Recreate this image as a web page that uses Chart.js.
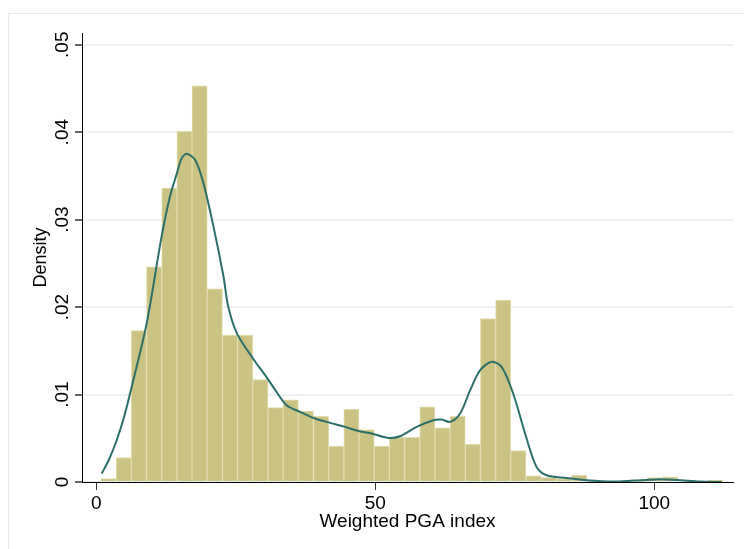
<!DOCTYPE html>
<html>
<head>
<meta charset="utf-8">
<script src="https://cdn.jsdelivr.net/npm/chart.js@4.4.1/dist/chart.umd.min.js"></script>
<style>
  html, body { margin: 0; padding: 0; background: #ffffff; }
  canvas { display: block; }
</style>
</head>
<body>
<canvas id="c" width="744" height="549"></canvas>
<script>
// ---- Data ----
const binCenters = [2.20, 4.92, 7.64, 10.36, 13.08, 15.80, 18.52, 21.24, 23.96, 26.68,
  29.40, 32.12, 34.84, 37.56, 40.28, 43.00, 45.72, 48.44, 51.16, 53.88,
  56.60, 59.32, 62.04, 64.76, 67.48, 70.20, 72.92, 75.64, 78.36, 81.08,
  83.80, 86.52, 89.24, 91.96, 94.68, 97.40, 100.12, 102.84, 105.56, 108.28, 111.00];
const binDensity = [0.0004, 0.0028, 0.0173, 0.0246, 0.0336, 0.0401, 0.0453, 0.0221, 0.0168, 0.0168,
  0.0117, 0.0085, 0.0094, 0.0081, 0.0075, 0.0041, 0.0083, 0.0060, 0.0041, 0.0051,
  0.0051, 0.0086, 0.0062, 0.0075, 0.0043, 0.0187, 0.0208, 0.0036, 0.0007, 0.0005,
  0.0004, 0.0008, 0.0001, 0.0000, 0.0001, 0.0001, 0.0005, 0.0006, 0.0002, 0.0001, 0.0002];
const kdeX = [0.97, 2.3, 3.65, 5.0, 6.34, 9.03, 11.7, 13.2, 14.4, 15.3, 16.2, 17.7, 19.2, 21.0, 22.8, 23.65,
  25.2, 28.1, 30.5, 32.3, 34.1, 36.5, 39.2, 41.9, 44.6, 47.2, 49.0, 52.3, 54.4, 57.4, 60.4, 61.9,
  63.4, 65.2, 67.0, 68.8, 70.9, 72.7, 74.7, 77.1, 78.9, 80.7, 84.3, 87.9, 92.7, 96.2, 100.4,
  104.0, 108.2, 112.1];
const kdeY = [0.00096, 0.0026, 0.00477, 0.0075, 0.01088, 0.01814, 0.02805, 0.03264, 0.0352, 0.0370, 0.03752, 0.03684,
  0.03417, 0.0292, 0.02347, 0.02004, 0.0170, 0.0141, 0.0120, 0.0103, 0.00878, 0.00802, 0.00726, 0.00676,
  0.0063, 0.0058, 0.00561, 0.00504, 0.00523, 0.0063, 0.00706, 0.00714, 0.00687, 0.00783, 0.0105,
  0.01279, 0.01374, 0.0131, 0.01012, 0.0050, 0.00172, 0.00077, 0.00046, 0.0002, 0.00005, 0.00016,
  0.0003, 0.00023, 0.00005, 0.0];
const xTicks = [0, 50, 100];
const xTickLabels = ['0', '50', '100'];
const yTicks = [0, 0.01, 0.02, 0.03, 0.04, 0.05];
const yTickLabels = ['0', '.01', '.02', '.03', '.04', '.05'];
const xTitle = 'Weighted PGA index';
const yTitle = 'Density';

// ---- Styling ----
const FONT = '"Liberation Sans", Arial, Helvetica, sans-serif';
const barFill = '#CBC383';
const barEdge = '#E2DCAE';
const lineColor = '#2B6F6B';
const gridColor = '#EBF1F3';

const histData = binCenters.map((x, i) => ({ x: x, y: binDensity[i] }));
const kdeData = kdeX.map((x, i) => ({ x: x, y: kdeY[i] }));

const frameAndLabels = {
  id: 'frameAndLabels',
  beforeDraw(chart) {
    const ctx = chart.ctx;
    ctx.save();
    ctx.fillStyle = '#ffffff';
    ctx.fillRect(0, 0, chart.width, chart.height);
    ctx.strokeStyle = '#E3EAEC';
    ctx.lineWidth = 1;
    ctx.strokeRect(8.5, 13.5, chart.width + 20, chart.height + 20);
    ctx.restore();
  },
  afterDraw(chart) {
    const ctx = chart.ctx;
    const ys = chart.scales.y;
    ctx.save();
    ctx.fillStyle = '#000000';
    ctx.font = '19px ' + FONT;
    ctx.textAlign = 'center';
    ctx.textBaseline = 'alphabetic';
    yTicks.forEach((v, i) => {
      const py = ys.getPixelForValue(v);
      ctx.save();
      ctx.translate(68, py);
      ctx.rotate(-Math.PI / 2);
      ctx.fillText(yTickLabels[i], 0, 0);
      ctx.restore();
    });
    ctx.restore();
  }
};

new Chart(document.getElementById('c'), {
  type: 'bar',
  data: {
    datasets: [
      {
        type: 'line',
        label: 'kdensity',
        data: kdeData,
        borderColor: lineColor,
        borderWidth: 2,
        pointRadius: 0,
        fill: false,
        tension: 0.3,
        order: 0
      },
      {
        type: 'bar',
        label: 'histogram',
        data: histData,
        backgroundColor: barFill,
        borderColor: barEdge,
        borderWidth: 1,
        borderSkipped: 'bottom',
        barPercentage: 1.0,
        categoryPercentage: 1.0,
        order: 1
      }
    ]
  },
  options: {
    responsive: false,
    animation: false,
    devicePixelRatio: 1,
    layout: { padding: { top: 33, right: 11, left: 0, bottom: 0 } },
    plugins: { legend: { display: false }, tooltip: { enabled: false } },
    scales: {
      x: {
        type: 'linear',
        min: -2.563,
        max: 114.1,
        offset: false,
        afterBuildTicks(scale) { scale.ticks = xTicks.map(v => ({ value: v })); },
        afterFit(scale) { scale.height = 67; },
        ticks: {
          color: '#000000',
          font: { family: FONT, size: 19 },
          padding: 2,
          maxRotation: 0,
          minRotation: 0,
          autoSkip: false,
          callback: (v) => xTickLabels[xTicks.indexOf(v)]
        },
        grid: { display: true, offset: false, drawOnChartArea: false, drawTicks: true, tickLength: 8, tickColor: '#333333', tickWidth: 1 },
        border: { display: true, color: '#000000', width: 1 },
        title: { display: true, text: xTitle, color: '#000000', font: { family: FONT, size: 19 }, padding: { top: 0, bottom: 16 } }
      },
      y: {
        type: 'linear',
        min: 0,
        max: 0.05134,
        afterBuildTicks(scale) { scale.ticks = yTicks.map(v => ({ value: v })); },
        afterFit(scale) { scale.width = 82; },
        ticks: { display: false },
        grid: { display: true, color: gridColor, lineWidth: 2, drawTicks: true, tickLength: 7, tickColor: '#666666', tickWidth: 2 },
        border: { display: true, color: '#000000', width: 1 },
        title: { display: true, text: yTitle, color: '#000000', font: { family: FONT, size: 18 }, padding: { top: 30, bottom: 0 } }
      }
    }
  },
  plugins: [frameAndLabels]
});
</script>
</body>
</html>
